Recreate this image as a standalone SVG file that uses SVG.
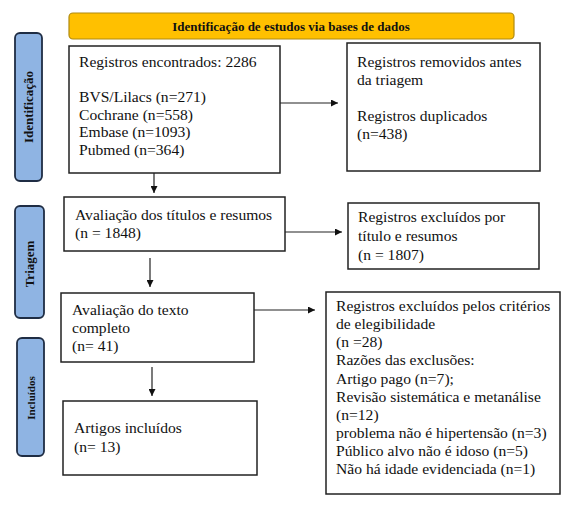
<svg xmlns="http://www.w3.org/2000/svg" width="571" height="505" viewBox="0 0 571 505" font-family="'Liberation Serif', 'Times New Roman', serif">
<style>
.box{fill:#fff;stroke:#222;stroke-width:1.5}
.side{fill:#8fb4e3;stroke:#1f2d44;stroke-width:1.8}
.c{stroke:#222;stroke-width:1.2;fill:none}
</style>
<defs>
<marker id="ah" viewBox="0 0 10 10" refX="10" refY="5" markerWidth="7" markerHeight="7" markerUnits="userSpaceOnUse" orient="auto">
<path d="M0,0L10,5L0,10z" fill="#111"/>
</marker>
</defs>
<rect width="571" height="505" fill="#fff"/>
<g id="header">
<rect x="69" y="13" width="445" height="26" rx="4" fill="#ffc000" stroke="#b08a10" stroke-width="1.2"/>
<text x="291" y="31" font-size="13" font-weight="bold" fill="#111" text-anchor="middle">Identificação de estudos via bases de dados</text>
</g>
<g id="side-identificacao" font-weight="bold" fill="#111">
<rect class="side" x="15" y="33" width="27" height="148" rx="5"/>
<text font-size="13" text-anchor="middle" transform="translate(32.5,107) rotate(-90)">Identificação</text>
</g>
<g id="side-triagem" font-weight="bold" fill="#111">
<rect class="side" x="15" y="206" width="29" height="112" rx="5"/>
<text font-size="13" text-anchor="middle" transform="translate(34,264) rotate(-90)">Triagem</text>
</g>
<g id="side-incluidos" font-weight="bold" fill="#111">
<rect class="side" x="17" y="338" width="27" height="118" rx="5"/>
<text font-size="11" text-anchor="middle" transform="translate(34.5,398) rotate(-90)">Incluídos</text>
</g>
<g id="connectors">
<line class="c" x1="280" y1="103" x2="338" y2="103" marker-end="url(#ah)"/>
<line class="c" x1="154" y1="173" x2="154" y2="193" marker-end="url(#ah)"/>
<line class="c" x1="285" y1="232" x2="342" y2="232" marker-end="url(#ah)"/>
<line class="c" x1="150" y1="258" x2="150" y2="287" marker-end="url(#ah)"/>
<line class="c" x1="254" y1="310" x2="315" y2="310" marker-end="url(#ah)"/>
<line class="c" x1="152" y1="367" x2="152" y2="396" marker-end="url(#ah)"/>
</g>
<g id="box-registros" font-size="15.6" fill="#111">
<rect class="box" x="69" y="46" width="211" height="127"/>
<text x="79" y="67">Registros encontrados: 2286</text>
<text x="79" y="102">BVS/Lilacs (n=271)</text>
<text x="79" y="119.5">Cochrane (n=558)</text>
<text x="79" y="137">Embase (n=1093)</text>
<text x="79" y="154.5">Pubmed (n=364)</text>
</g>
<g id="box-removidos" font-size="15.6" fill="#111">
<rect class="box" x="347" y="43" width="193" height="128"/>
<text x="357" y="67">Registros removidos antes</text>
<text x="357" y="85">da triagem</text>
<text x="357" y="121">Registros duplicados</text>
<text x="357" y="138.5">(n=438)</text>
</g>
<g id="box-avaliacao-titulos" font-size="15.6" fill="#111">
<rect class="box" x="64" y="197" width="221" height="54"/>
<text x="75" y="220">Avaliação dos títulos e resumos</text>
<text x="75" y="238">(n = 1848)</text>
</g>
<g id="box-excluidos-titulo" font-size="15.6" fill="#111">
<rect class="box" x="348" y="203" width="191" height="66"/>
<text x="358" y="222">Registros excluídos por</text>
<text x="358" y="241">título e resumos</text>
<text x="358" y="260">(n = 1807)</text>
</g>
<g id="box-texto-completo" font-size="15.6" fill="#111">
<rect class="box" x="61" y="293" width="193" height="69"/>
<text x="72" y="315">Avaliação do texto</text>
<text x="72" y="333">completo</text>
<text x="72" y="351">(n= 41)</text>
</g>
<g id="box-excluidos-criterios" font-size="15.6" fill="#111">
<rect class="box" x="326" y="292" width="234" height="202"/>
<text x="336" y="311">Registros excluídos pelos critérios</text>
<text x="336" y="329">de elegibilidade</text>
<text x="336" y="347">(n =28)</text>
<text x="336" y="365">Razões das exclusões:</text>
<text x="336" y="383.5">Artigo pago (n=7);</text>
<text x="336" y="401.5">Revisão sistemática e metanálise</text>
<text x="336" y="419.5">(n=12)</text>
<text x="336" y="438">problema não é hipertensão (n=3)</text>
<text x="336" y="456">Público alvo não é idoso (n=5)</text>
<text x="336" y="474">Não há idade evidenciada (n=1)</text>
</g>
<g id="box-incluidos" font-size="15.6" fill="#111">
<rect class="box" x="63" y="401" width="194" height="74"/>
<text x="74" y="433">Artigos incluídos</text>
<text x="74" y="452">(n= 13)</text>
</g>
</svg>
